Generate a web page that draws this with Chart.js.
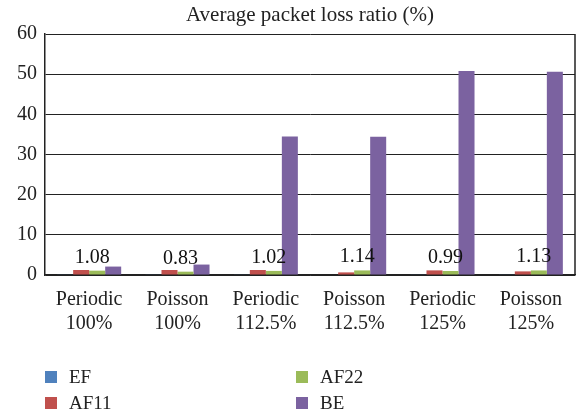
<!DOCTYPE html>
<html>
<head>
<meta charset="utf-8">
<script src="https://cdn.jsdelivr.net/npm/chart.js@4.4.0/dist/chart.umd.min.js"></script>
<style>
  html, body { margin: 0; padding: 0; background: #fff; }
  #wrap { position: relative; width: 578px; height: 416px; }
  .leg { position: absolute; font: 19px "Liberation Serif", serif; color: #222; }
  .leg i { position: absolute; left: 0; top: 5px; width: 12px; height: 12px; }
  .leg span { position: absolute; left: 24px; top: 0; white-space: nowrap; }
</style>
</head>
<body>
<div id="wrap">
  <canvas id="c" width="578" height="416"></canvas>
  <div id="legend"></div>
</div>
<script>
const categories = [['Periodic', '100%'], ['Poisson', '100%'], ['Periodic', '112.5%'],
                    ['Poisson', '112.5%'], ['Periodic', '125%'], ['Poisson', '125%']];
const seriesNames = ['EF', 'AF11', 'AF22', 'BE'];
const efValues   = [0.1, 0.1, 0.1, 0.12, 0.1, 0.15];
const af11Values = [1.25, 1.25, 1.25, 0.65, 1.15, 0.9];
const af22Values = [1.08, 0.83, 1.02, 1.14, 0.99, 1.13];
const beValues   = [2.1, 2.6, 34.5, 34.4, 50.8, 50.6];
const yTicks = [0, 10, 20, 30, 40, 50, 60];
const colors = ['#4f81bd', '#c0504d', '#9bbb59', '#7b62a0'];
const chartTitle = 'Average packet loss ratio (%)';

const serif = '"Liberation Serif", serif';

// labels above the AF22 bars, drawn near the group centre
const valueLabels = {
  id: 'valueLabels',
  afterDatasetsDraw(chart) {
    const ctx = chart.ctx;
    const meta = chart.getDatasetMeta(2);
    ctx.save();
    ctx.font = '20px ' + serif;
    ctx.fillStyle = '#111';
    ctx.textAlign = 'center';
    ctx.textBaseline = 'alphabetic';
    meta.data.forEach((bar, i) => {
      ctx.fillText(af22Values[i].toFixed(2), bar.x - 5, bar.y - 8);
    });
    ctx.restore();
  }
};

// right border + title centred over the plot area
const frame = {
  id: 'frame',
  afterDraw(chart) {
    const a = chart.chartArea, ctx = chart.ctx;
    ctx.save();
    ctx.strokeStyle = '#222';
    ctx.lineWidth = 1.5;
    ctx.beginPath();
    ctx.moveTo(a.right, a.top);
    ctx.lineTo(a.right, a.bottom);
    ctx.stroke();
    ctx.font = '21px ' + serif;
    ctx.fillStyle = '#222';
    ctx.textAlign = 'center';
    ctx.textBaseline = 'alphabetic';
    ctx.fillText(chartTitle, (a.left + a.right) / 2, 21);
    ctx.restore();
  }
};

new Chart(document.getElementById('c'), {
  type: 'bar',
  data: {
    labels: categories,
    datasets: [efValues, af11Values, af22Values, beValues].map((d, i) => ({
      label: seriesNames[i],
      data: d,
      backgroundColor: colors[i],
      categoryPercentage: 0.725,
      barPercentage: 1.0
    }))
  },
  options: {
    responsive: false,
    animation: false,
    layout: { padding: { top: 34, right: 3, bottom: 0, left: 0 } },
    plugins: {
      legend: { display: false },
      tooltip: { enabled: false },
      title: { display: false }
    },
    scales: {
      x: {
        grid: { display: false },
        border: { color: '#222', width: 1.5 },
        ticks: { color: '#222', font: { family: serif, size: 20 }, padding: 5, maxRotation: 0, autoSkip: false },
        afterFit(s) { s.height = 141; }
      },
      y: {
        min: 0, max: 60,
        afterBuildTicks(s) { s.ticks = yTicks.map(v => ({ value: v })); },
        grid: { color: '#222', lineWidth: 1, drawTicks: false },
        border: { color: '#222', width: 1.5 },
        ticks: { color: '#222', font: { family: serif, size: 20 }, padding: 8 },
        afterFit(s) { s.width = 45; }
      }
    }
  },
  plugins: [valueLabels, frame]
});

// two-column legend below the plot
const legPos = [[45, 366], [45, 392], [296, 366], [296, 392]];
const legend = document.getElementById('legend');
seriesNames.forEach((n, i) => {
  const d = document.createElement('div');
  d.className = 'leg';
  d.style.left = legPos[i][0] + 'px';
  d.style.top = legPos[i][1] + 'px';
  d.innerHTML = '<i style="background:' + colors[i] + '"></i><span>' + n + '</span>';
  legend.appendChild(d);
});
</script>
</body>
</html>
